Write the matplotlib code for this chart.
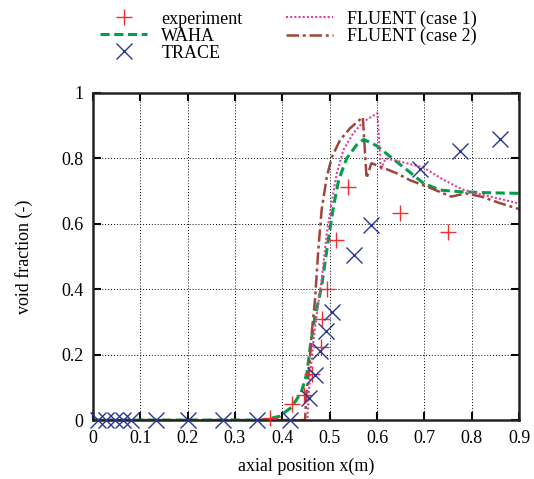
import matplotlib.pyplot as plt
import numpy as np

plt.rcParams['font.family'] = ['Liberation Serif', 'DejaVu Serif']

# experiment
exp_x = [0.374, 0.421, 0.445, 0.462, 0.481, 0.483, 0.494, 0.514, 0.539, 0.649, 0.751]
exp_y = [0.005, 0.05, 0.076, 0.14, 0.224, 0.31, 0.40, 0.55, 0.712, 0.634, 0.576]

# TRACE
trace_x = [0.011, 0.028, 0.046, 0.063, 0.081, 0.134, 0.2, 0.275, 0.346, 0.416,
           0.456, 0.468, 0.480, 0.493, 0.505, 0.552, 0.587, 0.690, 0.776, 0.860]
trace_y = [0.0, 0.0, 0.0, 0.0, 0.0, 0.0, 0.0, 0.0, 0.0, 0.0,
           0.068, 0.138, 0.21, 0.271, 0.33, 0.505, 0.596, 0.768, 0.823, 0.858]

# WAHA
waha_x = [0.0, 0.36, 0.395, 0.42, 0.44, 0.452, 0.459, 0.469, 0.483, 0.497, 0.508,
          0.519, 0.536, 0.557, 0.572, 0.6, 0.628, 0.663, 0.698, 0.733, 0.776, 0.832, 0.9]
waha_y = [0.0, 0.0, 0.012, 0.04, 0.085, 0.143, 0.224, 0.316, 0.408, 0.55, 0.652,
          0.734, 0.80, 0.841, 0.858, 0.838, 0.805, 0.765, 0.724, 0.703, 0.698, 0.695, 0.693]

# FLUENT (case 1)
fl1_x = [0.0, 0.453, 0.455, 0.459, 0.466, 0.473, 0.483, 0.494, 0.505, 0.515, 0.529,
         0.55, 0.571, 0.601, 0.608, 0.618, 0.65, 0.698, 0.74, 0.78, 0.82, 0.9]
fl1_y = [0.0, 0.0, 0.06, 0.143, 0.245, 0.326, 0.428, 0.571, 0.673, 0.754, 0.826,
         0.877, 0.912, 0.938, 0.765, 0.80, 0.79, 0.772, 0.735, 0.705, 0.69, 0.662]

# FLUENT (case 2)
fl2_x = [0.0, 0.448, 0.451, 0.457, 0.462, 0.469, 0.476, 0.483, 0.494, 0.505, 0.522,
         0.543, 0.570, 0.578, 0.588, 0.607, 0.642, 0.67, 0.705, 0.757, 0.787, 0.82, 0.86, 0.9]
fl2_y = [0.0, 0.0, 0.08, 0.163, 0.265, 0.367, 0.52, 0.642, 0.744, 0.805, 0.856,
         0.892, 0.926, 0.739, 0.785, 0.775, 0.754, 0.733, 0.714, 0.683, 0.693, 0.683, 0.663, 0.645]

fig = plt.figure(figsize=(5.34, 4.79), dpi=100)
ax = fig.add_axes([0.174, 0.123, 0.798, 0.683])

l_exp, = ax.plot(exp_x, exp_y, ls='none', marker='+', ms=12, mew=1.0,
                 color='#f03030', clip_on=False, zorder=4)
l_waha, = ax.plot(waha_x, waha_y, ls=(0, (3, 1.5)), lw=2.2, color='#00a04a')
l_trace, = ax.plot(trace_x, trace_y, ls='none', marker='x', ms=11, mew=1.0,
                   color='#2a3598', clip_on=False, zorder=4)
l_fl1, = ax.plot(fl1_x, fl1_y, ls=(0, (1, 1)), lw=1.5, color='#e0409c')
l_fl2, = ax.plot(fl2_x, fl2_y, ls=(0, (5, 1.5, 1.2, 1.5)), lw=1.8, color='#a0443c')

ax.set_xlim(0, 0.9)
ax.set_ylim(0, 1)
ax.set_xticks(np.arange(0, 0.91, 0.1))
ax.set_xticklabels(['0', '0.1', '0.2', '0.3', '0.4', '0.5', '0.6', '0.7', '0.8', '0.9'])
ax.set_yticks(np.arange(0, 1.01, 0.2))
ax.set_yticklabels(['0', '0.2', '0.4', '0.6', '0.8', '1'])
ax.tick_params(direction='in', top=True, right=True, length=6, width=1.5,
               labelsize=13, pad=7)
ax.grid(True, color='black', ls=(0, (1, 2)), lw=0.7)
for s in ax.spines.values():
    s.set_linewidth(1.8)
    s.set_color('#222222')

ax.set_xlabel('axial position x(m)', fontsize=13, labelpad=8)
ax.set_ylabel('void fraction (-)', fontsize=13, labelpad=20)

fig.legend([l_exp, l_waha, l_trace, l_fl1, l_fl2],
           ['experiment', 'WAHA', 'TRACE', 'FLUENT (case 1)', 'FLUENT (case 2)'],
           ncol=2, loc='upper left', bbox_to_anchor=(0.157, 1.012), frameon=False,
           fontsize=13, handlelength=2.6, handletextpad=0.8, columnspacing=2.4,
           labelspacing=0.0)

fig.savefig('out.png', dpi=100)
